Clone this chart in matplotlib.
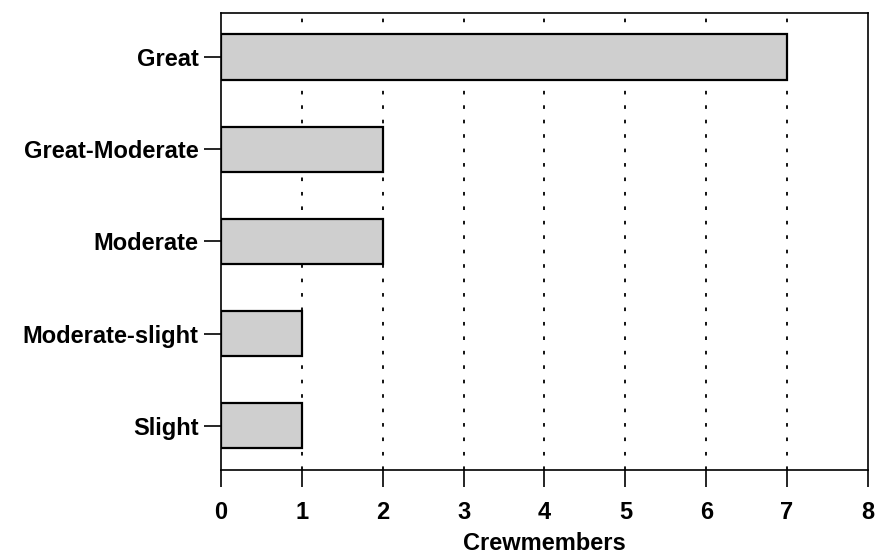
import matplotlib
matplotlib.use("Agg")
import matplotlib.pyplot as plt

categories = ["Great", "Great-Moderate", "Moderate", "Moderate-slight", "Slight"]
values = [7, 2, 2, 1, 1]
xticks = [0, 1, 2, 3, 4, 5, 6, 7, 8]

plt.rcParams['font.family'] = ['Liberation Sans', 'DejaVu Sans']
fig = plt.figure(figsize=(8.79, 5.55), dpi=100)
ax = fig.add_axes([0.2514, 0.153, 0.736, 0.824])

ypos = list(range(len(categories)))[::-1]
ax.barh(ypos, values, height=0.49, color='#cfcfcf', edgecolor='black', linewidth=1.6, zorder=3)
ax.set_xlim(0, 8)
ax.set_ylim(-0.48, 4.48)
ax.set_xticks(xticks)
ax.set_xticklabels([str(t) for t in xticks], fontsize=17, fontweight='bold')
ax.set_yticks(ypos)
ax.set_yticklabels(categories, fontsize=17, fontweight='bold')
for x in xticks[1:-1]:
    ax.axvline(x, color='black', linestyle=(0, (2, 6)), linewidth=1.3, zorder=1)
ax.tick_params(axis='both', direction='out', length=12, width=1.2)
ax.tick_params(axis='y', pad=4)
ax.tick_params(axis='x', pad=10)
for s in ax.spines.values():
    s.set_linewidth(1.2)
ax.set_xlabel("Crewmembers", fontsize=17, fontweight='bold', labelpad=6)
fig.savefig("out.png", dpi=100)
